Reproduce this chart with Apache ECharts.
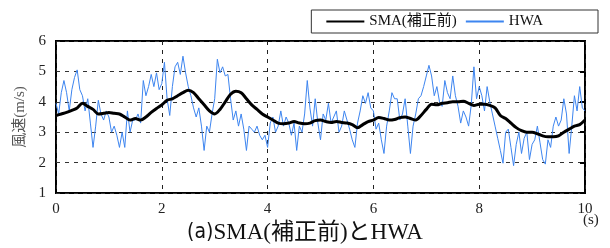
<!DOCTYPE html>
<html>
<head>
<meta charset="utf-8">
<script src="https://cdn.jsdelivr.net/npm/echarts@6/dist/echarts.min.js"></script>
<style>
html,body{margin:0;padding:0;background:#fff;}
#main{width:610px;height:248px;}
</style>
</head>
<body>
<div id="main"></div>
<script>
// 時間軸 (s)
var hwaStep = 0.05;
var hwaSpeed = [
  3.95,3.6,4.3,4.7,4.3,3.7,4.4,4.8,5.05,4.4,
  4.2,3.7,4.1,3.3,2.5,3.2,4.05,3.6,3.4,3.7,
  3.5,3.0,3.2,2.9,2.5,3.0,2.5,3.7,3.0,3.4,
  3.4,3.6,3.3,4.7,4.2,4.5,4.9,4.5,4.95,4.4,
  4.6,5.3,4.1,3.55,4.5,5.15,5.3,4.9,5.5,4.95,
  4.5,4.2,3.8,3.5,3.8,3.2,2.4,3.2,3.0,3.6,
  4.1,5.4,4.95,5.15,4.85,4.9,4.1,3.4,3.7,3.2,
  3.6,3.1,2.4,3.2,3.1,3.0,3.2,2.9,2.75,2.9,
  2.5,3.3,3.5,3.0,3.2,3.7,3.2,3.5,3.3,2.9,
  3.3,2.4,3.2,3.0,3.6,4.7,3.8,3.2,4.1,3.3,
  2.75,3.6,3.4,3.95,3.3,3.5,3.7,3.0,3.2,3.7,
  3.4,3.1,2.75,2.5,3.3,3.7,4.2,3.95,4.3,3.8,
  3.7,3.1,3.3,2.75,2.3,3.2,3.7,4.3,4.1,4.1,
  3.4,3.6,4.1,3.2,2.3,3.2,3.6,4.1,4.2,4.5,
  4.85,5.2,4.85,4.2,4.5,4.0,3.85,4.7,4.3,4.1,
  4.85,4.2,3.85,3.3,3.7,3.5,3.2,3.9,5.15,4.1,
  4.5,4.2,3.7,4.5,4.0,3.6,3.2,2.8,2.4,1.98,
  3.0,3.1,2.5,1.9,2.6,3.0,2.3,2.8,3.0,2.1,
  2.6,2.75,3.2,2.65,2.1,1.95,2.75,2.5,3.2,3.5,
  3.2,3.4,4.1,3.6,2.3,3.2,4.2,3.7,4.5,3.8,
  3.7
];
var smaStep = 0.1;
var smaSpeed = [
  3.55,3.6,3.65,3.72,3.8,3.95,3.85,3.75,3.6,3.62,
  3.65,3.62,3.6,3.5,3.4,3.45,3.4,3.5,3.65,3.78,
  3.9,4.05,4.1,4.2,4.3,4.38,4.3,4.1,3.9,3.7,
  3.6,3.75,4.0,4.25,4.35,4.3,4.1,3.9,3.75,3.6,
  3.5,3.4,3.3,3.28,3.3,3.35,3.3,3.28,3.3,3.38,
  3.4,3.35,3.32,3.35,3.32,3.3,3.25,3.15,3.25,3.35,
  3.4,3.48,3.45,3.4,3.42,3.48,3.5,3.45,3.4,3.55,
  3.75,3.92,3.9,3.95,3.97,4.0,4.0,4.02,3.95,3.88,
  3.92,3.92,3.88,3.8,3.55,3.45,3.3,3.15,3.05,3.0,
  3.0,2.95,2.88,2.85,2.85,2.88,3.0,3.1,3.2,3.25,
  3.4
];

function pairs(step, vals) {
  return vals.map(function (v, i) { return [+(i * step).toFixed(3), v]; });
}

var myChart = echarts.init(document.getElementById('main'));
var serif = '"Liberation Serif","Noto Sans CJK JP",serif';

myChart.setOption({
  animation: false,
  backgroundColor: '#fff',
  textStyle: { fontFamily: serif },
  title: {
    text: '{a|(a)}{b|SMA(補正前)とHWA}',
    left: 'center',
    top: 216,
    textStyle: {
      fontSize: 23, fontWeight: 'normal', color: '#111',
      rich: {
        a: { fontFamily: '"DejaVu Sans Condensed","Noto Sans",sans-serif', fontSize: 21, color: '#111' },
        b: { fontFamily: serif, fontSize: 23, color: '#111' }
      }
    }
  },
  legend: {
    right: 12,
    top: 10,
    padding: [4, 55, 4, 14],
    borderColor: '#333',
    borderWidth: 1,
    itemWidth: 38,
    itemHeight: 10,
    itemGap: 8,
    itemStyle: { opacity: 0 },
    textStyle: { fontFamily: serif, fontSize: 15, color: '#111' },
    data: ['SMA(補正前)', 'HWA']
  },
  grid: { left: 56, right: 25, top: 41, bottom: 55, show: true, borderColor: '#000', borderWidth: 2 },
  xAxis: {
    type: 'value',
    min: 0, max: 10, interval: 2,
    axisLine: { show: false },
    axisTick: { show: false },
    axisLabel: { fontFamily: serif, fontSize: 15, color: '#222', margin: 9 },
    splitLine: { show: true, lineStyle: { color: '#222', type: [4, 5], width: 1 } }
  },
  yAxis: [{
    type: 'value',
    min: 1, max: 6, interval: 1,
    name: '風速(m/s)',
    nameLocation: 'middle',
    nameGap: 25,
    nameRotate: 90,
    nameTextStyle: { fontFamily: serif, fontSize: 15, color: '#555' },
    axisLine: { show: false },
    axisTick: { show: false },
    axisLabel: { fontFamily: serif, fontSize: 15, color: '#222', margin: 10 },
    splitLine: { show: true, lineStyle: { color: '#333', type: [4, 5], width: 1 } }
  }, {
    type: 'value',
    position: 'right',
    min: 1, max: 6, interval: 1,
    axisLine: { show: false },
    axisTick: { show: true, inside: true, length: 5, lineStyle: { color: '#000', width: 2 } },
    axisLabel: { show: false },
    splitLine: { show: false }
  }],
  series: [{
    name: 'HWA',
    type: 'line',
    data: pairs(hwaStep, hwaSpeed),
    symbol: 'none',
    z: 2,
    lineStyle: { color: '#3d85f0', width: 1 },
    itemStyle: { color: '#3d85f0' }
  }, {
    name: 'SMA(補正前)',
    type: 'line',
    data: pairs(smaStep, smaSpeed),
    symbol: 'none',
    smooth: 0.3,
    z: 3,
    lineStyle: { color: '#000', width: 3 },
    itemStyle: { color: '#000' }
  }],
  graphic: [{
    type: 'text',
    left: 583,
    top: 213,
    style: { text: '(s)', font: '15px ' + serif, fill: '#222' }
  }]
});
</script>
</body>
</html>
